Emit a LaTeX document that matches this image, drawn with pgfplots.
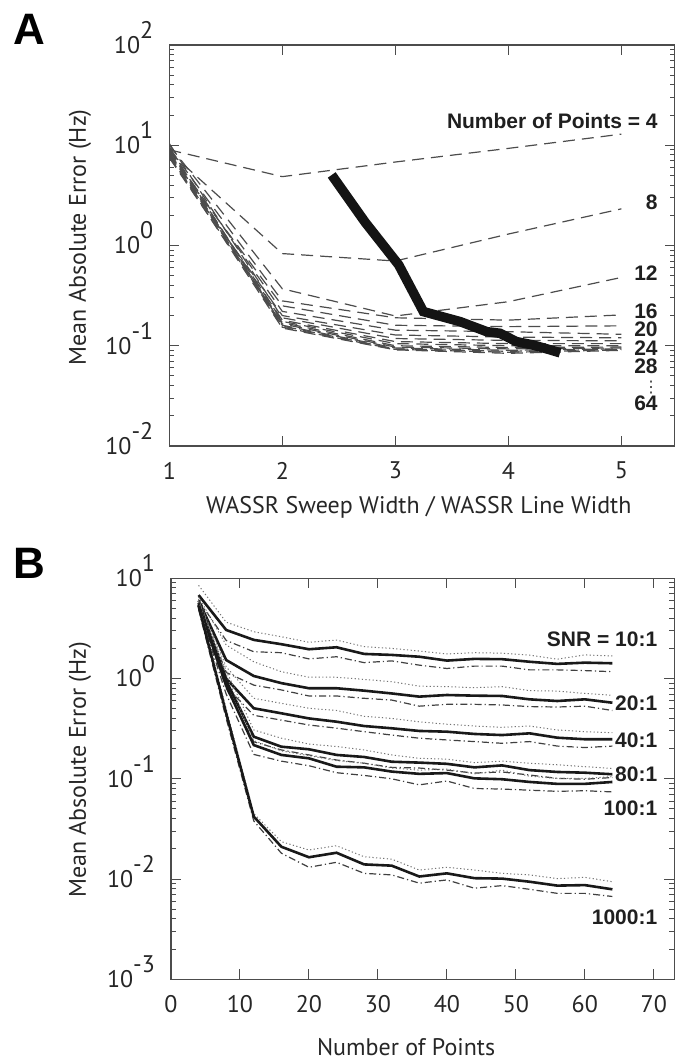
\documentclass[border=0pt]{standalone}
\usepackage{fontspec}
\setmainfont{PT Sans}
\newfontfamily\lblfont{Liberation Sans}
\newfontfamily\symfont{DejaVu Sans}
\usepackage{pgfplots}
\usepackage{pgfplotstable}
\pgfplotsset{compat=1.18}

% 10^n with the exponent as large as the base, as in the original
\newcommand{\dec}[1]{10\raisebox{0.62em}[0pt][0pt]{#1}}
\newcommand{\lbl}{\lblfont\bfseries\fontsize{10.5}{12}\selectfont}
\newcommand{\axf}{\fontsize{12}{14}\selectfont}

% panel A: error vs sweep width ratio, one column per number of points
\pgfplotstableread{
x    N4   N8   N12   N16   N20   N24   N28   N32   N36   N40   N44   N48   N52   N56   N60   N64
1    9.0  8.6  10.0  9.4   8.2   9.0   7.6   10.4  8.5   9.1   8.0   7.5   9.6   8.4   8.9   7.9
2    4.86 0.83 0.37  0.28  0.25  0.22  0.20  0.19  0.18  0.175 0.17  0.165 0.16  0.157 0.153 0.15
3    6.8  0.70 0.198 0.19  0.16  0.143 0.128 0.118 0.11  0.105 0.10  0.097 0.095 0.093 0.092 0.091
4    9.3  1.30 0.275 0.18  0.155 0.138 0.122 0.113 0.105 0.10  0.096 0.093 0.09  0.088 0.086 0.084
5    12.9 2.32 0.48  0.203 0.158 0.13  0.12  0.112 0.105 0.10  0.097 0.095 0.093 0.092 0.091 0.09
}\tabA

% panel B: error vs number of points; d = dotted, s = solid, c = dash-dot
\pgfplotstableread{
x  d10  s10  c10  d20  s20   c20   d40   s40   c40   d80   s80   c80   d100  s100  c100  d1k    s1k    c1k
4  8.5  6.8  6.0  6.5  6.0   5.5   6.2   5.7   5.3   6.0   5.5   5.1   5.9   5.4   5.0   5.8    5.3    4.9
8  3.65 3.05 2.4  2.16 1.53  1.15  1.31  1.0   0.83  1.2   0.95  0.8   1.1   0.85  0.7   0.5    0.45   0.4
12 2.93 2.43 1.85 1.47 1.06  0.86  0.635 0.505 0.43  0.307 0.263 0.234 0.24  0.217 0.175 0.045  0.042  0.038
16 2.61 2.2  1.81 1.17 0.90  0.77  0.566 0.45  0.385 0.254 0.209 0.194 0.19  0.173 0.15  0.0236 0.021  0.0181
20 2.3  1.96 1.57 1.03 0.80  0.67  0.505 0.40  0.344 0.222 0.197 0.173 0.17  0.16  0.135 0.0195 0.0165 0.0131
24 2.42 2.05 1.65 1.03 0.80  0.67  0.48  0.371 0.32  0.21  0.173 0.154 0.152 0.132 0.115 0.0215 0.0183 0.0147
28 2.08 1.76 1.44 0.98 0.757 0.635 0.42  0.336 0.295 0.194 0.165 0.143 0.143 0.13  0.108 0.0167 0.014  0.0114
32 2.0  1.72 1.5  0.93 0.71  0.61  0.40  0.319 0.273 0.173 0.148 0.13  0.128 0.118 0.1   0.0158 0.0136 0.011
36 1.88 1.65 1.36 0.84 0.66  0.53  0.37  0.30  0.254 0.16  0.145 0.128 0.122 0.112 0.087 0.0123 0.0106 0.0091
40 1.76 1.51 1.26 0.83 0.685 0.553 0.35  0.295 0.244 0.157 0.141 0.122 0.125 0.114 0.095 0.0131 0.0114 0.0098
44 1.81 1.57 1.33 0.81 0.675 0.553 0.336 0.28  0.235 0.145 0.13  0.114 0.112 0.101 0.08  0.0123 0.0102 0.0081
48 1.79 1.56 1.33 0.83 0.67  0.545 0.326 0.273 0.226 0.15  0.136 0.117 0.122 0.099 0.079 0.0114 0.0101 0.0086
52 1.71 1.47 1.22 0.757 0.62 0.525 0.336 0.284 0.235 0.143 0.122 0.109 0.106 0.093 0.077 0.011  0.0094 0.0079
56 1.56 1.40 1.22 0.75 0.597 0.52  0.307 0.257 0.212 0.138 0.117 0.101 0.101 0.089 0.075 0.0101 0.0086 0.0072
60 1.72 1.44 1.2  0.71 0.62  0.53  0.295 0.248 0.205 0.132 0.115 0.099 0.101 0.089 0.076 0.0104 0.0087 0.0072
64 1.68 1.42 1.17 0.68 0.574 0.48  0.288 0.248 0.212 0.127 0.111 0.103 0.105 0.093 0.074 0.0094 0.0079 0.0067
}\tabB

\tikzset{
  dsh/.style={black!70, line width=0.6pt, dash pattern=on 6pt off 3.5pt},
  sol/.style={black!90, line width=1.3pt},
  dot/.style={black!55, line width=0.5pt, dash pattern=on 0.6pt off 1.2pt},
  dshdot/.style={black!75, line width=0.6pt, dash pattern=on 3.5pt off 1.5pt on 0.6pt off 1.5pt},
  tag/.style={anchor=east, inner sep=0.5pt, font=\lbl, text=black!88},
}
\pgfplotsset{
  every axis/.append style={
    axis line style={black!70, line width=0.6pt},
    every tick/.style={black!70, line width=0.5pt},
    major tick length=5pt,
    minor tick length=2.5pt,
    tick align=inside,
  },
}

\begin{document}
\begin{tikzpicture}
\path[use as bounding box] (0,0) rectangle (338pt,531.5pt);

\node[font=\lblfont\bfseries\fontsize{22}{24}\selectfont] at (14.5pt,517pt) {A};
\node[font=\lblfont\bfseries\fontsize{22}{24}\selectfont] at (14.5pt,250pt) {B};

% ---------- panel A ----------
\begin{axis}[
  scale only axis, ymode=log,
  /pgf/number format/assume math mode=true,
  at={(84.65pt,308.5pt)}, anchor=south west,
  width=252.6pt, height=200.5pt,
  xmin=1, xmax=5.47, ymin=1e-2, ymax=1e2,
  xtick={1,2,3,4,5},
  ytick={1e-2,1e-1,1,1e1,1e2},
  yticklabels={\dec{-2},\dec{-1},\dec{0},\dec{1},\dec{2}},
  minor ytick={0.02,0.03,0.04,0.05,0.06,0.07,0.08,0.09,0.2,0.3,0.4,0.5,0.6,0.7,0.8,0.9,2,3,4,5,6,7,8,9,20,30,40,50,60,70,80,90},
  xticklabel style={font=\axf, text=black!85, yshift=-4.5pt},
  yticklabel style={font=\axf, text=black!85, xshift=-4.5pt},
  xlabel={WASSR Sweep Width / WASSR Line Width},
  ylabel={Mean Absolute Error (Hz)},
  every axis x label/.style={at={(axis description cs:0.494,-0.152)}, anchor=center, font=\axf, text=black!85},
  every axis y label/.style={at={(axis description cs:-0.177,0.52)}, anchor=center, rotate=90, font=\axf, text=black!85},
]
\foreach \n in {N4,N8,N12,N16,N20,N24,N28,N32,N36,N40,N44,N48,N52,N56,N60,N64}{
  \addplot[dsh] table[x=x, y=\n] {\tabA};
}
\addplot[black!92, line width=4.8pt] coordinates {
  (2.437,5.05) (2.732,1.71) (3.03,0.64) (3.248,0.219) (3.573,0.174)
  (3.81,0.138) (3.927,0.133) (4.07,0.11) (4.22,0.1016) (4.37,0.091) (4.457,0.085)
};
\node[tag] at (axis cs:5.333,17.5) {Number of Points = 4};
\node[tag] at (axis cs:5.333,2.67) {8};
\node[tag] at (axis cs:5.333,0.525) {12};
\node[tag] at (axis cs:5.333,0.223) {16};
\node[tag] at (axis cs:5.333,0.1456) {20};
\node[tag] at (axis cs:5.333,0.095) {24};
\node[tag] at (axis cs:5.333,0.062) {28};
\node[inner sep=0pt, font=\symfont\fontsize{8}{8}\selectfont, text=black!80] at (axis cs:5.263,0.038) {⋮};
\node[tag] at (axis cs:5.333,0.0264) {64};
\end{axis}

% ---------- panel B ----------
\begin{axis}[
  scale only axis, ymode=log,
  /pgf/number format/assume math mode=true,
  at={(85.5pt,41.85pt)}, anchor=south west,
  width=251.75pt, height=200.5pt,
  xmin=0, xmax=73, ymin=1e-3, ymax=1e1,
  xtick={0,10,...,70},
  ytick={1e-3,1e-2,1e-1,1,1e1},
  yticklabels={\dec{-3},\dec{-2},\dec{-1},\dec{0},\dec{1}},
  minor ytick={0.002,0.003,0.004,0.005,0.006,0.007,0.008,0.009,0.02,0.03,0.04,0.05,0.06,0.07,0.08,0.09,0.2,0.3,0.4,0.5,0.6,0.7,0.8,0.9,2,3,4,5,6,7,8,9},
  xticklabel style={font=\axf, text=black!85, yshift=-4.5pt},
  yticklabel style={font=\axf, text=black!85, xshift=-4.5pt},
  xlabel={Number of Points},
  ylabel={Mean Absolute Error (Hz)},
  every axis x label/.style={at={(axis description cs:0.467,-0.169)}, anchor=center, font=\axf, text=black!85},
  every axis y label/.style={at={(axis description cs:-0.181,0.522)}, anchor=center, rotate=90, font=\axf, text=black!85},
]
\foreach \s in {10,20,40,80,100,1k}{
  \addplot[dot] table[x=x, y=d\s] {\tabB};
  \addplot[dshdot] table[x=x, y=c\s] {\tabB};
  \addplot[sol] table[x=x, y=s\s] {\tabB};
}
\node[tag] at (axis cs:70.7,2.45) {SNR = 10:1};
\node[tag] at (axis cs:70.7,0.57) {20:1};
\node[tag] at (axis cs:70.7,0.244) {40:1};
\node[tag] at (axis cs:70.7,0.111) {80:1};
\node[tag] at (axis cs:70.7,0.0512) {100:1};
\node[tag] at (axis cs:70.7,0.00418) {1000:1};
\end{axis}
\end{tikzpicture}
\end{document}
